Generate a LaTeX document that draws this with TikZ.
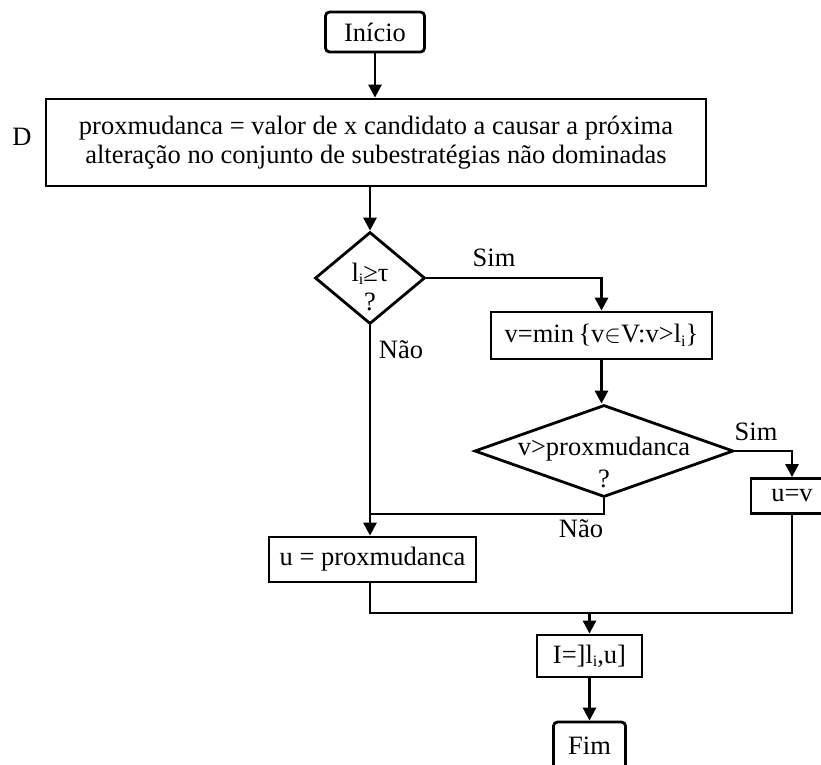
\documentclass[tikz,border=0pt]{standalone}
\usepackage{fontspec}
\setmainfont{Liberation Serif}
\usetikzlibrary{shapes.geometric,arrows.meta}

% small lowered index letter, as in l_i
\newcommand\subtxt[1]{\raisebox{-0.3ex}{\fontsize{16}{16}\selectfont #1}}

\begin{document}
\begin{tikzpicture}[x=1pt,y=-1pt,
  line width=2.8pt,
  every node/.style={font=\fontsize{26.5}{28.5}\selectfont, inner sep=0pt},
  procbox/.style={draw, rectangle, minimum width=#1},
  termbox/.style={draw, rectangle, rounded corners=4pt, minimum height=40pt},
  decision/.style={draw, diamond, minimum width=#1, minimum height=92pt},
  lbl/.style={anchor=base},
  flow/.style={-{Triangle[length=13pt,width=13pt]}}
]
\path[use as bounding box, clip] (0,0) rectangle (821,764);

% start
\node[termbox, minimum width=99pt] (inicio) at (375,32) {Início};

% initialisation block
\node[procbox=660pt, minimum height=87pt, align=center] (proc) at (376,142.5)
  {proxmudanca = valor de x candidato a causar a próxima\\
   alteração no conjunto de subestratégias não dominadas};
\node[lbl] (dlab) at (22,145) {D};

% first test
\node[decision=110pt] (d1) at (370,278) {};
\node[lbl] (d1a) at (370,281) {l\subtxt{i}≥τ};
\node[lbl] (d1b) at (370,310) {?};

% smallest v above l_i
\node[procbox=221pt, minimum height=47pt] (vmin) at (601.5,335.5)
  {v=min\,\{v$\in$V:v>l\subtxt{i}\}};

% second test
\node[decision=259pt] (d2) at (604,451) {};
\node[lbl] (d2a) at (604,455) {v>proxmudanca};
\node[lbl] (d2b) at (604,487) {?};

% assignments
\node[procbox=82pt, minimum height=35pt] (uv) at (792,496) {u=v};
\node[procbox=207pt, minimum height=45pt] (uprox) at (372.5,559.5) {u = proxmudanca};

% result and end
\node[procbox=105pt, minimum height=42pt] (intv) at (589.5,656) {I=]l\subtxt{i},u]};
\node[termbox, minimum width=72pt, minimum height=48pt] (fim) at (589.5,746) {Fim};

% branch labels
\node[lbl] (sim1) at (494,266) {Sim};
\node[lbl] (nao1) at (401,358) {Não};
\node[lbl] (sim2) at (756,440) {Sim};
\node[lbl] (nao2) at (581,537) {Não};

% junction points
\coordinate (j1) at (370,514);
\coordinate (j2) at (589.5,613);

% connectors
\draw[flow] (inicio.south) -- (inicio.south |- proc.north);
\draw[flow] (d1.north |- proc.south) -- (d1.north);
\draw[flow] (d1.east) -| (vmin.north);
\draw[flow] (vmin.south) -- (vmin.south |- d2.north);
\draw[flow] (d2.east) -| (uv.north);
\draw (d2.south) |- (j1);
\draw[flow] (d1.south) -- (d1.south |- uprox.north);
\draw (d1.south |- uprox.south) |- (j2) -| (uv.south);
\draw[flow] (j2) -- (intv.north);
\draw[flow] (intv.south) -- (fim.north);
\end{tikzpicture}
\end{document}
